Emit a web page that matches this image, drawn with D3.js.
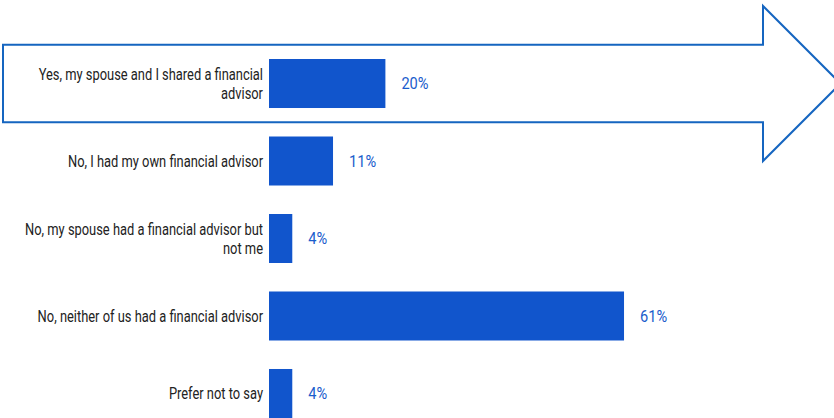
<!DOCTYPE html>
<html>
<head>
<meta charset="utf-8">
<script src="https://cdn.jsdelivr.net/npm/d3@7"></script>
<style>
  html, body { margin: 0; padding: 0; background: #fff; }
  svg { display: block; }
</style>
</head>
<body>
<svg id="chart" width="834" height="418"></svg>
<script>
// Survey answers and their shares (percent)
const categories = [
  "Yes, my spouse and I shared a financial advisor",
  "No, I had my own financial advisor",
  "No, my spouse had a financial advisor but not me",
  "No, neither of us had a financial advisor",
  "Prefer not to say"
];
const values = [20, 11, 4, 61, 4];
const valueLabels = ["20%", "11%", "4%", "61%", "4%"];

const W = 834, H = 418;
const barColor = "#1155cc";
const valueColor = "#1a5ccc";
const arrowColor = "#1565c0";
const labelFont = "Roboto, 'Noto Sans', sans-serif";
const squeeze = 0.806;     // narrow face for the category labels
const valueSqueeze = 0.86; // narrow face for the value labels
const wrapWidth = 250;     // max label width before wrapping

const svg = d3.select("#chart");

const y = d3.scaleBand()
  .domain(categories)
  .range([44.75, 432.25])
  .paddingInner(0.3677)
  .paddingOuter(0.184);

const x = d3.scaleLinear().domain([0, 100]).range([269, 851]);

// Highlight arrow around the first answer
const c0 = y(categories[0]) + y.bandwidth() / 2;
const step = y.step();
const headX = 763;
const arrow = [
  [3, c0 - step / 2],
  [headX, c0 - step / 2],
  [headX, c0 - step],
  [headX + step, c0],
  [headX, c0 + step],
  [headX, c0 + step / 2],
  [3, c0 + step / 2]
];
svg.append("path")
  .attr("d", d3.line()(arrow) + "Z")
  .attr("fill", "#fff")
  .attr("stroke", arrowColor)
  .attr("stroke-width", 2)
  .attr("stroke-linejoin", "miter");

// Bars
svg.append("g").selectAll("rect")
  .data(categories)
  .join("rect")
  .attr("x", x(0))
  .attr("y", d => y(d))
  .attr("width", (d, i) => x(values[i]) - x(0))
  .attr("height", y.bandwidth())
  .attr("fill", barColor);

// Value labels
svg.append("g").selectAll("text")
  .data(categories)
  .join("text")
  .attr("x", (d, i) => x(values[i]) + 16)
  .attr("y", d => y(d) + y.bandwidth() / 2)
  .attr("dy", "0.35em")
  .attr("fill", valueColor)
  .style("font-family", labelFont)
  .style("font-size", "17px")
  .attr("transform", (d, i) => {
    const px = x(values[i]) + 16;
    return `translate(${px},0) scale(${valueSqueeze},1) translate(${-px},0)`;
  })
  .text((d, i) => valueLabels[i]);

// Category labels, right-aligned and wrapped
const labelRight = 263;
const lineH = 19;
const catG = svg.append("g")
  .attr("transform", `translate(${labelRight},0) scale(${squeeze},1)`);

categories.forEach(cat => {
  const t = catG.append("text")
    .attr("text-anchor", "end")
    .attr("fill", "#222")
    .style("font-family", labelFont)
    .style("font-size", "16px");
  const words = cat.split(" ");
  const lines = [];
  let cur = [];
  const probe = t.append("tspan");
  words.forEach(w => {
    const test = cur.concat(w).join(" ");
    probe.text(test);
    if (probe.node().getComputedTextLength() * squeeze > wrapWidth && cur.length) {
      lines.push(cur.join(" "));
      cur = [w];
    } else {
      cur.push(w);
    }
  });
  lines.push(cur.join(" "));
  probe.remove();
  const cy = y(cat) + y.bandwidth() / 2;
  const top = cy - (lines.length - 1) * lineH / 2;
  lines.forEach((ln, k) => {
    t.append("tspan")
      .attr("x", 0)
      .attr("y", top + k * lineH)
      .attr("dy", "0.35em")
      .text(ln);
  });
});
</script>
</body>
</html>
